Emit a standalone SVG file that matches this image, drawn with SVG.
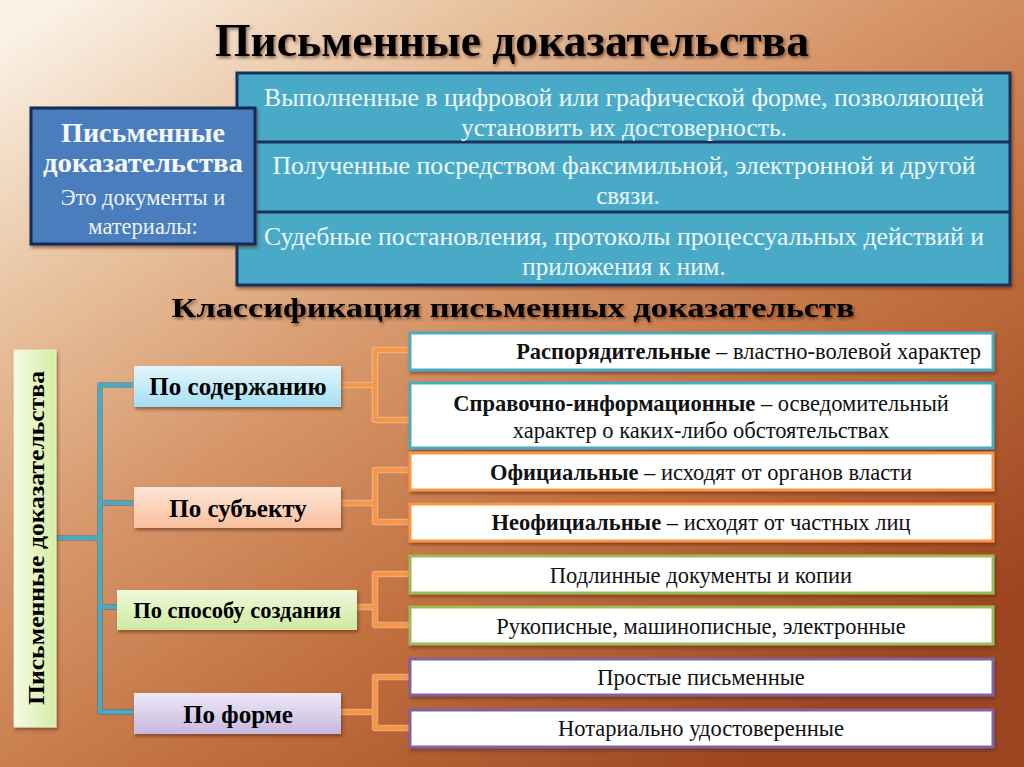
<svg xmlns="http://www.w3.org/2000/svg" width="1024" height="767" viewBox="0 0 1024 767">
<defs>
<linearGradient id="bg" gradientUnits="userSpaceOnUse" x1="150" y1="-50" x2="700" y2="800">
<stop offset="0" stop-color="#faf0e4"/>
<stop offset="0.22" stop-color="#e8c3a0"/>
<stop offset="0.45" stop-color="#d69669"/>
<stop offset="0.7" stop-color="#c06e3e"/>
<stop offset="1" stop-color="#9c4520"/>
</linearGradient>
<linearGradient id="gBlue" x1="0" y1="0" x2="0" y2="1"><stop offset="0" stop-color="#e4f6fc"/><stop offset="1" stop-color="#a3def2"/></linearGradient>
<linearGradient id="gPeach" x1="0" y1="0" x2="0" y2="1"><stop offset="0" stop-color="#fde6d7"/><stop offset="1" stop-color="#f8bf9c"/></linearGradient>
<linearGradient id="gGreen" x1="0" y1="0" x2="0" y2="1"><stop offset="0" stop-color="#f0f9dc"/><stop offset="1" stop-color="#cfe9a0"/></linearGradient>
<linearGradient id="gLav" x1="0" y1="0" x2="0" y2="1"><stop offset="0" stop-color="#eee9f7"/><stop offset="1" stop-color="#c5b8e0"/></linearGradient>
<linearGradient id="gVert" x1="0" y1="0" x2="1" y2="0"><stop offset="0" stop-color="#f6fbe6"/><stop offset="1" stop-color="#d5eea2"/></linearGradient>
<filter id="sh" x="-10%" y="-10%" width="120%" height="130%"><feDropShadow dx="1.5" dy="2.5" stdDeviation="1.8" flood-color="#5a2a10" flood-opacity="0.55"/></filter>
<filter id="tsh" x="-5%" y="-20%" width="110%" height="150%"><feDropShadow dx="1.5" dy="2" stdDeviation="1.5" flood-color="#3a1a08" flood-opacity="0.6"/></filter>
<style>
.serif{font-family:"Liberation Serif","Times New Roman",serif}
.title{font-family:"Liberation Serif",serif;font-weight:bold;fill:#000}
.wt{font-family:"Liberation Serif",serif;fill:#eef8fb;font-size:25px;text-anchor:middle}
.cat{font-family:"Liberation Serif",serif;font-weight:bold;fill:#000;text-anchor:middle}
.leaf{font-family:"Liberation Serif",serif;fill:#111;font-size:22.5px;text-anchor:middle}
.b{font-weight:bold}
.blue{fill:none;stroke:#4aaac4;stroke-width:4;stroke-linejoin:round}
.blueOut{fill:none;stroke:#3a6f86;stroke-width:6;stroke-linejoin:round;opacity:0.5}
.org{fill:none;stroke:#f79646;stroke-width:4;stroke-linejoin:round}
.orgOut{fill:none;stroke:#fbc090;stroke-width:6.5;stroke-linejoin:round;opacity:0.7}
</style>
</defs>
<rect x="0" y="0" width="1024" height="767" fill="url(#bg)"/>

<text class="title" x="512" y="56" font-size="46" text-anchor="middle" textLength="594" lengthAdjust="spacingAndGlyphs" filter="url(#tsh)">Письменные доказательства</text>

<g id="definitions">
<rect x="237" y="73" width="773" height="212" fill="#4aaac8" stroke="#17305c" stroke-width="3" filter="url(#sh)"/>
<line x1="237" y1="142" x2="1010" y2="142" stroke="#17305c" stroke-width="3"/>
<line x1="237" y1="212" x2="1010" y2="212" stroke="#17305c" stroke-width="3"/>
<text class="wt" x="624" y="106" textLength="720" lengthAdjust="spacingAndGlyphs">Выполненные в цифровой или графической форме, позволяющей</text>
<text class="wt" x="624" y="136" textLength="326" lengthAdjust="spacingAndGlyphs">установить их достоверность.</text>
<text class="wt" x="624" y="174" textLength="703" lengthAdjust="spacingAndGlyphs">Полученные посредством факсимильной, электронной и другой</text>
<text class="wt" x="628" y="204">связи.</text>
<text class="wt" x="624" y="245" textLength="720" lengthAdjust="spacingAndGlyphs">Судебные постановления, протоколы процессуальных действий и</text>
<text class="wt" x="624" y="275">приложения к ним.</text>
</g>

<g id="def-head">
<rect x="31" y="108" width="224" height="136" fill="#4a7dbd" stroke="#142a56" stroke-width="3" filter="url(#sh)"/>
<text class="serif b" x="143" y="142" font-size="27" fill="#f4f8fc" text-anchor="middle" textLength="164" lengthAdjust="spacingAndGlyphs">Письменные</text>
<text class="serif b" x="143" y="172" font-size="27" fill="#f4f8fc" text-anchor="middle" textLength="200" lengthAdjust="spacingAndGlyphs">доказательства</text>
<text class="serif" x="143" y="205" font-size="22.5" fill="#eef4fa" text-anchor="middle">Это документы и</text>
<text class="serif" x="143" y="234" font-size="22.5" fill="#eef4fa" text-anchor="middle">материалы:</text>
</g>

<text class="title" x="513" y="317" font-size="28" text-anchor="middle" textLength="683" lengthAdjust="spacingAndGlyphs" filter="url(#tsh)">Классификация письменных доказательств</text>

<g id="connectors">
<path class="blueOut" d="M56 538 H100 M133 385 H100 V712 H133 M100 503 H133 M100 607 H117"/>
<path class="blue" d="M56 538 H100 M133 385 H100 V712 H133 M100 503 H133 M100 607 H117"/>
<path class="orgOut" d="M341 385 H375 M410 350 H375 V420 H410 M341 503 H375 M410 470 H375 V522 H410 M357 607 H375 M410 574 H375 V625 H410 M341 712 H375 M410 677 H375 V728 H410"/>
<path class="org" d="M341 385 H375 M410 350 H375 V420 H410 M341 503 H375 M410 470 H375 V522 H410 M357 607 H375 M410 574 H375 V625 H410 M341 712 H375 M410 677 H375 V728 H410"/>
</g>

<g id="root">
<rect x="14" y="350" width="42" height="377" fill="url(#gVert)" stroke="#e8f2c8" stroke-width="1" filter="url(#sh)"/>
<text class="cat" x="0" y="0" font-size="23" transform="translate(44 538) rotate(-90)" textLength="334" lengthAdjust="spacingAndGlyphs">Письменные доказательства</text>
</g>

<g id="cat-content">
<rect x="134" y="366" width="207" height="41" fill="url(#gBlue)" filter="url(#sh)"/>
<text class="cat" x="238" y="395" font-size="25">По содержанию</text>
</g>
<g id="cat-subject">
<rect x="134" y="487" width="207" height="41" fill="url(#gPeach)" filter="url(#sh)"/>
<text class="cat" x="238" y="517" font-size="25">По субъекту</text>
</g>
<g id="cat-method">
<rect x="117" y="590" width="240" height="40" fill="url(#gGreen)" filter="url(#sh)"/>
<text class="cat" x="237" y="618" font-size="22.5">По способу создания</text>
</g>
<g id="cat-form">
<rect x="134" y="693" width="207" height="41" fill="url(#gLav)" filter="url(#sh)"/>
<text class="cat" x="238" y="723" font-size="25">По форме</text>
</g>

<g id="leaf-1">
<rect x="410" y="333" width="583" height="37" fill="#fff" stroke="#4aaac4" stroke-width="3" filter="url(#sh)"/>
<text class="leaf" x="981" y="359" style="text-anchor:end"><tspan class="b">Распорядительные</tspan> – властно-волевой характер</text>
</g>
<g id="leaf-2">
<rect x="410" y="383" width="583" height="65" fill="#fff" stroke="#4aaac4" stroke-width="3" filter="url(#sh)"/>
<text class="leaf" x="701" y="411"><tspan class="b">Справочно-информационные</tspan> – осведомительный</text>
<text class="leaf" x="701" y="438">характер о каких-либо обстоятельствах</text>
</g>
<g id="leaf-3">
<rect x="410" y="453" width="583" height="37" fill="#fff" stroke="#f79646" stroke-width="3" filter="url(#sh)"/>
<text class="leaf" x="701" y="480"><tspan class="b">Официальные</tspan> – исходят от органов власти</text>
</g>
<g id="leaf-4">
<rect x="410" y="504" width="583" height="37" fill="#fff" stroke="#f79646" stroke-width="3" filter="url(#sh)"/>
<text class="leaf" x="701" y="530"><tspan class="b">Неофициальные</tspan> – исходят от частных лиц</text>
</g>
<g id="leaf-5">
<rect x="410" y="556" width="583" height="37" fill="#fff" stroke="#9bbb59" stroke-width="3" filter="url(#sh)"/>
<text class="leaf" x="701" y="583">Подлинные документы и копии</text>
</g>
<g id="leaf-6">
<rect x="410" y="607" width="583" height="37" fill="#fff" stroke="#9bbb59" stroke-width="3" filter="url(#sh)"/>
<text class="leaf" x="701" y="634">Рукописные, машинописные, электронные</text>
</g>
<g id="leaf-7">
<rect x="410" y="659" width="583" height="36" fill="#fff" stroke="#8064a2" stroke-width="3" filter="url(#sh)"/>
<text class="leaf" x="701" y="685">Простые письменные</text>
</g>
<g id="leaf-8">
<rect x="410" y="710" width="583" height="37" fill="#fff" stroke="#8064a2" stroke-width="3" filter="url(#sh)"/>
<text class="leaf" x="701" y="736">Нотариально удостоверенные</text>
</g>
</svg>
